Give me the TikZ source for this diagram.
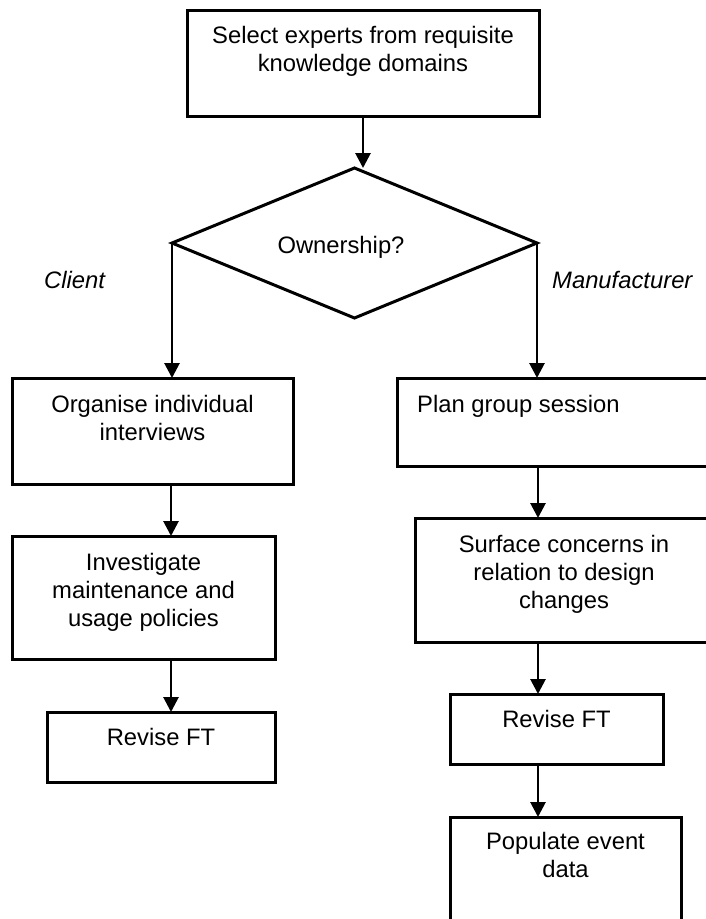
\documentclass[tikz,border=0pt]{standalone}
\usepackage{fontspec}
\setmainfont{Liberation Sans}
\usetikzlibrary{arrows.meta}
\begin{document}
\begin{tikzpicture}[x=1pt,y=-1pt,
  fbox/.style={draw, line width=3pt, rectangle, inner sep=0pt, outer sep=0pt, anchor=north west},
  lab/.style={inner sep=0pt, align=center, font=\fontsize{23.8}{28}\selectfont, anchor=north},
  itl/.style={inner sep=0pt, font=\fontsize{23.8}{28}\selectfont\itshape, anchor=base west},
  conn/.style={line width=2.8pt, -{Triangle[length=15pt,width=15pt]}}
  ]
\fill[white] (0,0) rectangle (706,919);
\useasboundingbox (0,0) rectangle (706,919);
\clip (0,0) rectangle (706,919);

% top box
\node[fbox, minimum width=352pt, minimum height=106pt,
  label={[lab,yshift=-16pt]north:Select experts from requisite\\knowledge domains}] (sel) at (187,10) {};

% decision
\coordinate (dtop) at (354.5,168);
\coordinate (dleft) at (172,243);
\coordinate (dright) at (537,243);
\coordinate (dbot) at (354.5,318);
\draw[line width=3pt] (dtop) -- (dright) -- (dbot) -- (dleft) -- cycle;
\node[lab, anchor=base] (own) at (341,253) {Ownership?};
\node[itl] (client) at (44,288) {Client};
\node[itl] (manu) at (552,288) {Manufacturer};

% left column
\node[fbox, minimum width=281pt, minimum height=106pt,
  label={[lab,yshift=-17pt]north:Organise individual\\interviews}] (org) at (12,378) {};
\node[fbox, minimum width=263pt, minimum height=123pt,
  label={[lab,yshift=-17pt]north:Investigate\\maintenance and\\usage policies}] (inv) at (12,536) {};
\node[fbox, minimum width=228pt, minimum height=70pt,
  label={[lab,yshift=-16pt]north:Revise FT}] (rev1) at (47,712) {};

% right column
\node[fbox, minimum width=333pt, minimum height=88pt,
  label={[lab,anchor=north west,xshift=20pt,yshift=-17pt]north west:Plan group session}] (plan) at (397,378) {};
\node[fbox, minimum width=298pt, minimum height=124pt,
  label={[lab,yshift=-17pt]north:Surface concerns in\\relation to design\\changes}] (surf) at (415,518) {};
\node[fbox, minimum width=213pt, minimum height=70pt,
  label={[lab,yshift=-16pt]north:Revise FT}] (rev2) at (450,694) {};
\node[fbox, minimum width=231pt, minimum height=143pt,
  label={[lab,yshift=-15pt]north:Populate event\\data}] (pop) at (450,817) {};

% connectors
\coordinate (lcol) at (171,0);
\coordinate (rcol) at (538,0);
\draw[conn] (sel.south) -- (sel.south |- dtop);
\draw[conn] (dleft) -- (dleft |- org.north);
\draw[conn] (dright) -- (dright |- plan.north);
\draw[conn] (org.south -| lcol) -- (inv.north -| lcol);
\draw[conn] (inv.south -| lcol) -- (rev1.north -| lcol);
\draw[conn] (plan.south -| rcol) -- (surf.north -| rcol);
\draw[conn] (surf.south -| rcol) -- (rev2.north -| rcol);
\draw[conn] (rev2.south -| rcol) -- (pop.north -| rcol);
\end{tikzpicture}
\end{document}
